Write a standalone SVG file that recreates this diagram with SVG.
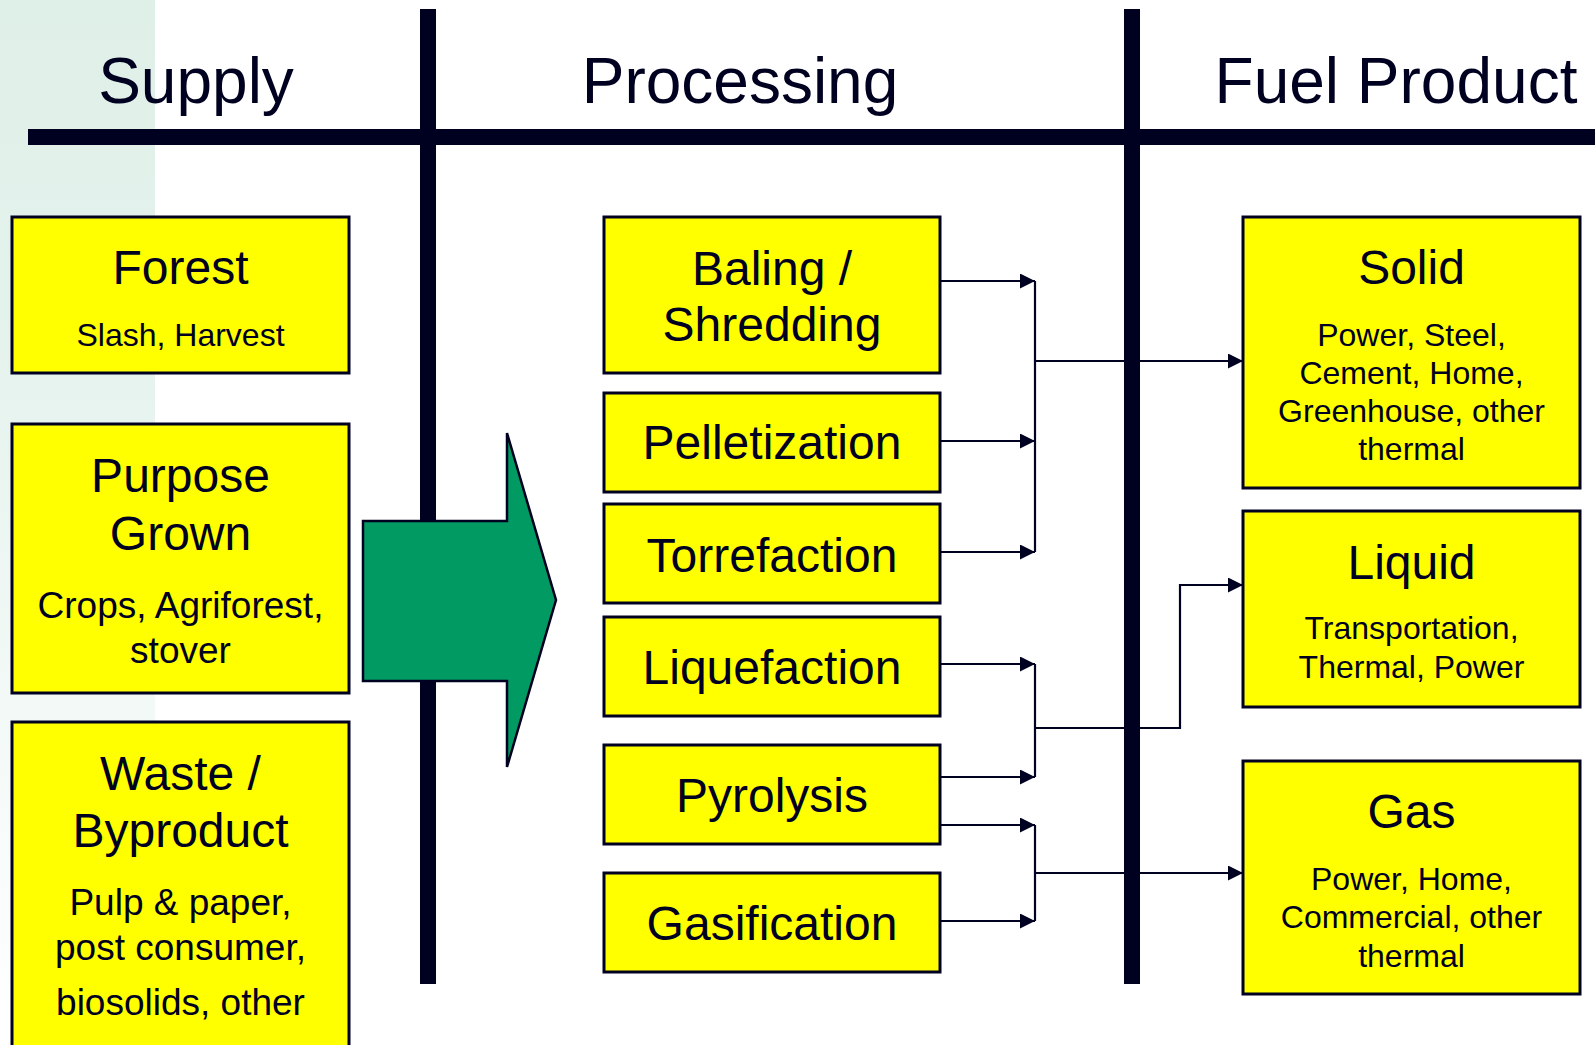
<svg xmlns="http://www.w3.org/2000/svg" width="1595" height="1045" viewBox="0 0 1595 1045">
<defs>
<linearGradient id="band" x1="0" y1="0" x2="0" y2="1">
<stop offset="0" stop-color="#DFF0E8"/>
<stop offset="0.3" stop-color="#E4F2EC"/>
<stop offset="1" stop-color="#FFFFFF"/>
</linearGradient>
<marker id="ah" markerUnits="userSpaceOnUse" markerWidth="16" markerHeight="16" refX="15" refY="7.5" orient="auto">
<path d="M0,0 L15,7.5 L0,15 Z" fill="#000020"/>
</marker>
<style>
.bar{fill:#000020}
.box{fill:#FFFF00;stroke:#000020;stroke-width:3}
.t{font-family:"Liberation Sans",Arial,sans-serif;fill:#000020;text-anchor:middle}
.hd{font-size:64px}
.ti{font-size:48px}
.s32{font-size:32px}
.s37{font-size:37px}
.c{fill:none;stroke:#000020;stroke-width:2.2}
</style>
</defs>
<rect width="1595" height="1045" fill="#FFFFFF"/>
<rect x="0" y="0" width="155" height="1045" fill="url(#band)"/>

<g id="headers">
<text class="t hd" x="196" y="103">Supply</text>
<text class="t hd" x="740" y="103">Processing</text>
<text class="t hd" x="1396" y="103">Fuel Product</text>
</g>

<g id="dividers">
<rect class="bar" x="28" y="129" width="1567" height="16"/>
<rect class="bar" x="420" y="9" width="16" height="975"/>
<rect class="bar" x="1124" y="9" width="16" height="975"/>
</g>

<g id="connectors">
<path class="c" d="M940,281 H1035" marker-end="url(#ah)"/>
<path class="c" d="M940,441 H1035" marker-end="url(#ah)"/>
<path class="c" d="M940,552 H1035" marker-end="url(#ah)"/>
<path class="c" d="M1035,281 V552"/>
<path class="c" d="M1035,361 H1243" marker-end="url(#ah)"/>
<path class="c" d="M940,664 H1035" marker-end="url(#ah)"/>
<path class="c" d="M940,777 H1035" marker-end="url(#ah)"/>
<path class="c" d="M1035,664 V777"/>
<path class="c" d="M1035,728 H1180 V585 H1243" marker-end="url(#ah)"/>
<path class="c" d="M940,825 H1035" marker-end="url(#ah)"/>
<path class="c" d="M940,921 H1035" marker-end="url(#ah)"/>
<path class="c" d="M1035,825 V921"/>
<path class="c" d="M1035,873 H1243" marker-end="url(#ah)"/>
</g>

<g id="flow-arrow">
<polygon points="363,521 507,521 507,433 556,600 507,767 507,681 363,681" fill="#009A62" stroke="#000020" stroke-width="2.5" stroke-linejoin="miter"/>
</g>

<g id="forest">
<rect class="box" x="12" y="217" width="337" height="156"/>
<text class="t ti" x="180.5" y="284">Forest</text>
<text class="t s32" x="180.5" y="346">Slash, Harvest</text>
</g>
<g id="purpose-grown">
<rect class="box" x="12" y="424" width="337" height="269"/>
<text class="t ti" x="180.5" y="492">Purpose</text>
<text class="t ti" x="180.5" y="550">Grown</text>
<text class="t s37" x="180.5" y="618">Crops, Agriforest,</text>
<text class="t s37" x="180.5" y="663">stover</text>
</g>
<g id="waste-byproduct">
<rect class="box" x="12" y="722" width="337" height="340"/>
<text class="t ti" x="180.5" y="790">Waste /</text>
<text class="t ti" x="180.5" y="847">Byproduct</text>
<text class="t s37" x="180.5" y="915">Pulp &amp; paper,</text>
<text class="t s37" x="180.5" y="960">post consumer,</text>
<text class="t s37" x="180.5" y="1015">biosolids, other</text>
</g>

<g id="baling">
<rect class="box" x="604" y="217" width="336" height="156"/>
<text class="t ti" x="772" y="285">Baling /</text>
<text class="t ti" x="772" y="341">Shredding</text>
</g>
<g id="pelletization">
<rect class="box" x="604" y="393" width="336" height="99"/>
<text class="t ti" x="772" y="459">Pelletization</text>
</g>
<g id="torrefaction">
<rect class="box" x="604" y="504" width="336" height="99"/>
<text class="t ti" x="772" y="572">Torrefaction</text>
</g>
<g id="liquefaction">
<rect class="box" x="604" y="617" width="336" height="99"/>
<text class="t ti" x="772" y="684">Liquefaction</text>
</g>
<g id="pyrolysis">
<rect class="box" x="604" y="745" width="336" height="99"/>
<text class="t ti" x="772" y="812">Pyrolysis</text>
</g>
<g id="gasification">
<rect class="box" x="604" y="873" width="336" height="99"/>
<text class="t ti" x="772" y="940">Gasification</text>
</g>

<g id="solid">
<rect class="box" x="1243" y="217" width="337" height="271"/>
<text class="t ti" x="1411.5" y="284">Solid</text>
<text class="t s32" x="1411.5" y="346">Power, Steel,</text>
<text class="t s32" x="1411.5" y="384">Cement, Home,</text>
<text class="t s32" x="1411.5" y="422">Greenhouse, other</text>
<text class="t s32" x="1411.5" y="460">thermal</text>
</g>
<g id="liquid">
<rect class="box" x="1243" y="511" width="337" height="196"/>
<text class="t ti" x="1411.5" y="579">Liquid</text>
<text class="t s32" x="1411.5" y="639">Transportation,</text>
<text class="t s32" x="1411.5" y="678">Thermal, Power</text>
</g>
<g id="gas">
<rect class="box" x="1243" y="761" width="337" height="233"/>
<text class="t ti" x="1411.5" y="828">Gas</text>
<text class="t s32" x="1411.5" y="890">Power, Home,</text>
<text class="t s32" x="1411.5" y="928">Commercial, other</text>
<text class="t s32" x="1411.5" y="967">thermal</text>
</g>
</svg>
